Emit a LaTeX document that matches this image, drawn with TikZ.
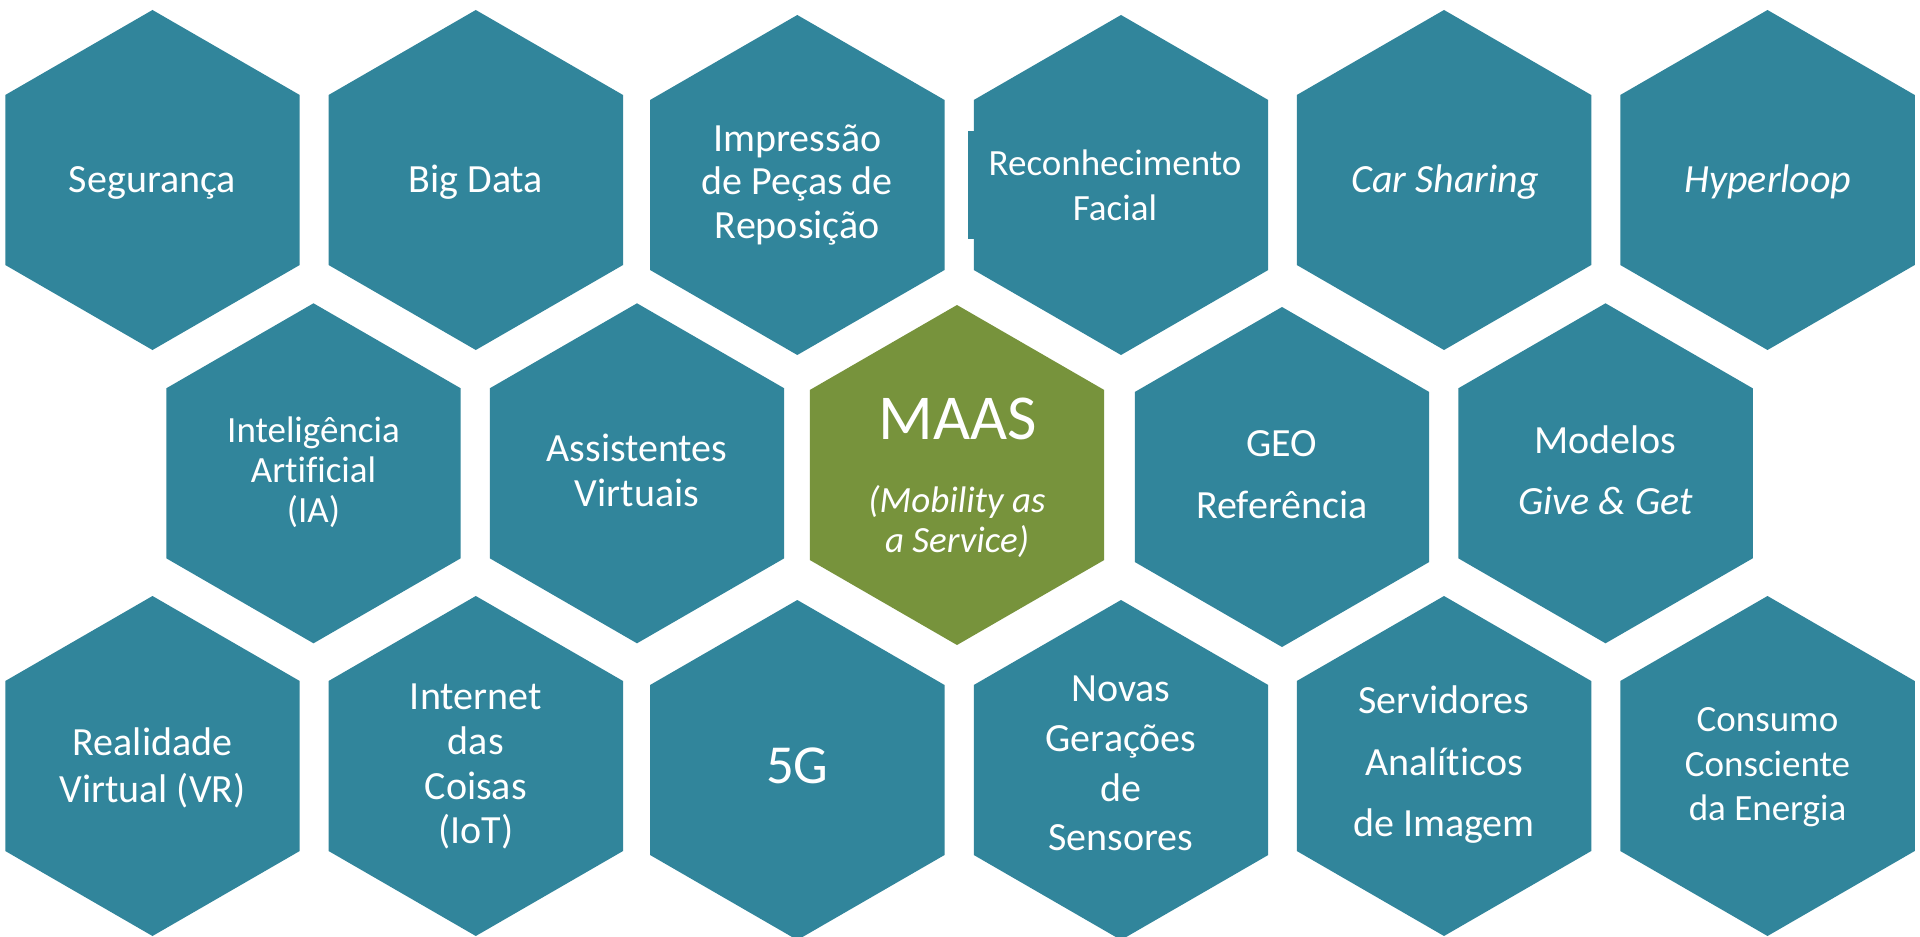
\documentclass[tikz,border=0pt]{standalone}
\usepackage{fontspec}
\setmainfont{Carlito}[Ligatures=NoCommon]
\definecolor{hexteal}{RGB}{49,133,155}
\definecolor{maasgreen}{RGB}{119,147,60}
\newcommand\hexR{170}
% hexagon (pointy top) centred at (#1,#2), style #3
\newcommand\hexcell[3]{\fill[#3] (#1,#2) +(90:\hexR) -- +(30:\hexR) -- +(-30:\hexR) -- +(-90:\hexR) -- +(-150:\hexR) -- +(150:\hexR) -- cycle;}
\begin{document}
\begin{tikzpicture}[x=0.5pt,y=-0.5pt,
  lbl/.style={text=white, inner sep=0pt, outer sep=0pt, align=center},
  fs/.style 2 args={font=\fontsize{#1}{#2}\selectfont},
  fsi/.style 2 args={font=\fontsize{#1}{#2}\selectfont\itshape},
  tealhex/.style={fill=hexteal},
  greenhex/.style={fill=maasgreen}]
\useasboundingbox (0,0) rectangle (1920,936);
\clip (0,0) rectangle (1920,936);
\fill[white] (0,0) rectangle (1920,936);
% row 1
\hexcell{152.5}{180}{tealhex}
\hexcell{475.8}{180}{tealhex}
\hexcell{797.3}{185}{tealhex}
\hexcell{1121}{185}{tealhex}
\hexcell{1444}{180}{tealhex}
\hexcell{1767.5}{180}{tealhex}
\fill[tealhex] (968,131) rectangle (973.5,239);
% row 2
\hexcell{313.5}{473.3}{tealhex}
\hexcell{637}{473.3}{tealhex}
\hexcell{957}{475}{greenhex}
\hexcell{1282}{477}{tealhex}
\hexcell{1605.5}{473.3}{tealhex}
% row 3
\hexcell{152.5}{766}{tealhex}
\hexcell{475.8}{766}{tealhex}
\hexcell{797.3}{770}{tealhex}
\hexcell{1121}{770}{tealhex}
\hexcell{1444}{766}{tealhex}
\hexcell{1767.5}{766}{tealhex}
% labels row 1
\node[lbl,fs={20}{24.4},anchor=base] (seg) at (152.5,192.3) {Segurança};
\node[lbl,fs={20}{24.4},anchor=base] (big) at (475.8,192.3) {Big Data};
\node[lbl,fs={20}{21.65}] (imp) at (797.3,186.3) {\strut Impressão\\de Peças de\\Reposição\strut};
\node[lbl,fs={18.5}{22.35}] (rec) at (1115,189.4) {\strut Reconhecimento\\Facial\strut};
\node[lbl,fsi={20}{24.4},anchor=base] (car) at (1445,192.3) {Car Sharing};
\node[lbl,fsi={20}{24.4},anchor=base] (hyp) at (1768,192.3) {Hyperloop};
% labels row 2
\node[lbl,fs={18.5}{20}] (ia) at (313.5,474.5) {\strut Inteligência\\Artificial\\(IA)\strut};
\node[lbl,fs={20}{22.5}] (ass) at (637,475.2) {\strut Assistentes\\Virtuais\strut};
\node[lbl,fs={32}{39},anchor=base] (maas) at (957.5,439) {MAAS};
\node[lbl,fsi={18.5}{20}] (maassub) at (957,524.7) {\strut(Mobility as\\a Service)\strut};
\node[lbl,fs={20}{30.8}] (geo) at (1282,475.2) {\strut GEO\\Referência\strut};
\node[lbl,fs={20}{30.35}] (mod) at (1605.5,471.6) {\strut Modelos\\\textit{Give \& Get}\strut};
% labels row 3
\node[lbl,fs={20}{23.35}] (vr) at (152.5,770) {\strut Realidade\\Virtual (VR)\strut};
\node[lbl,fs={20}{22.4}] (iot) at (475.8,767.8) {\strut Internet\\das\\Coisas\\(IoT)\strut};
\node[lbl,fs={27.5}{33},anchor=base] (fiveg) at (797.3,783.3) {5G};
\node[lbl,fs={20}{24.85}] (sens) at (1121,766.3) {\strut Novas\\Gerações\\de\\Sensores\strut};
\node[lbl,fs={20}{30.85}] (serv) at (1444,762.7) {\strut Servidores\\Analíticos\\de Imagem\strut};
\node[lbl,fs={18.5}{22.25}] (cons) at (1767.5,767.3) {\strut Consumo\\Consciente\\da Energia\strut};
\end{tikzpicture}
\end{document}
